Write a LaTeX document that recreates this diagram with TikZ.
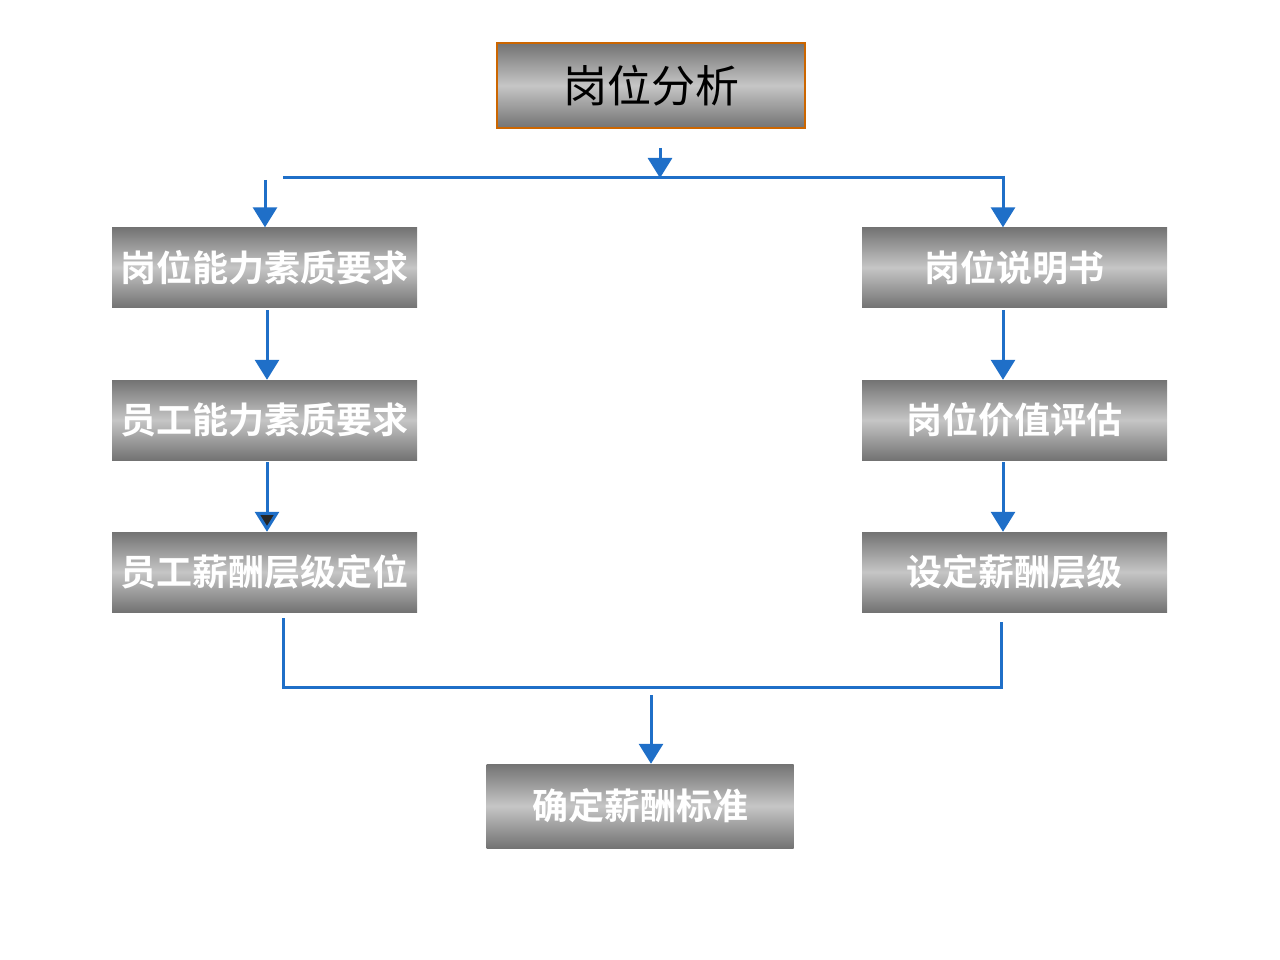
\documentclass[tikz,border=0pt]{standalone}
\usepackage{fontspec}
\newfontfamily\cjk{Noto Sans CJK SC}
\newfontfamily\cjkb{Noto Sans CJK SC Bold}
\usetikzlibrary{arrows.meta,shadows}
\definecolor{lblue}{HTML}{1F6FC8}
\tikzset{
  box/.style={minimum width=305pt,minimum height=80pt,inner sep=0pt,
    top color=gray!90!black,bottom color=gray!90!black,middle color=gray!45,
    font=\cjkb\fontsize{36}{36}\selectfont,text=white},
  topbox/.style={box,minimum width=308pt,minimum height=85pt,draw=orange!80!black,line width=1.2pt,
    font=\cjk\fontsize{44}{44}\selectfont,text=black},
  flow/.style={lblue,line width=3pt,-{Triangle[length=20pt,width=24pt]}},
  ln/.style={lblue,line width=3pt}
}
\begin{document}
\begin{tikzpicture}[x=1pt,y=-1pt]
\useasboundingbox (0,0) rectangle (1280,960);
\node[topbox] (a) at (651,85.5) {岗位分析};
\node[box] (l1) at (264.5,267.5) {岗位能力素质要求};
\node[box] (l2) at (264.5,420) {员工能力素质要求};
\node[box] (l3) at (264.5,572) {员工薪酬层级定位};
\node[box] (r1) at (1014.5,267.5) {岗位说明书};
\node[box] (r2) at (1014.5,420) {岗位价值评估};
\node[box] (r3) at (1014.5,572) {设定薪酬层级};
\node[box,minimum width=307pt,minimum height=84pt] (b) at (640,806) {确定薪酬标准};
\coordinate (tl) at (283,178); \coordinate (tr) at (1003,178);
\coordinate (tm) at (660,178);
\coordinate (bl) at (283,687); \coordinate (br) at (1001,687);
\coordinate (bm) at (651,695);
\draw[ln] (tl) -- (tr);
\draw[flow] (660,148) -- (tm);
\draw[flow] (265,180) -- (l1.north -| 265,0);
\draw[flow] (1003,176) -- (r1.north -| 1003,0);
\draw[flow] (267,310) -- (l2.north -| 267,0);
\draw[flow,-{Triangle[length=20pt,width=24pt,fill=gray!30!black]}] (267,462) -- (l3.north -| 267,0);
\draw[flow] (1003,310) -- (r2.north -| 1003,0);
\draw[flow] (1003,462) -- (r3.north -| 1003,0);
\draw[ln] (283,618) -- (bl) -- (br) -- (1001,622);
\draw[flow] (bm) -- (b.north -| bm);
\end{tikzpicture}
\end{document}
